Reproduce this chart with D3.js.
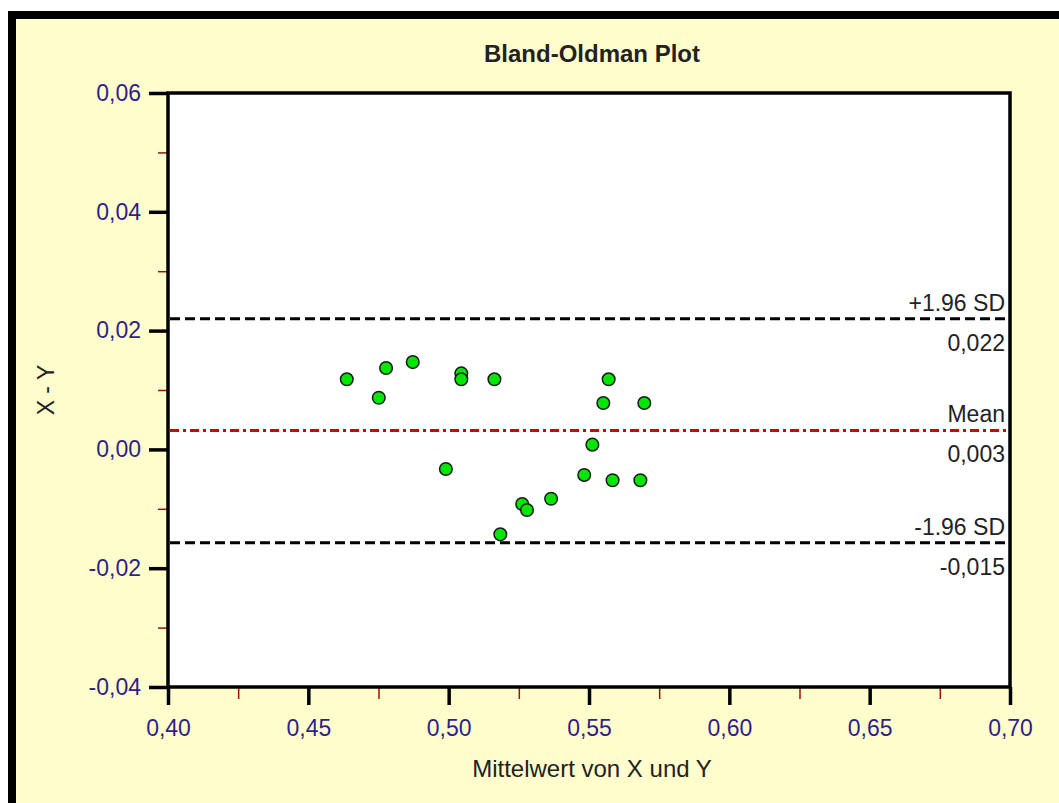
<!DOCTYPE html>
<html>
<head>
<meta charset="utf-8">
<script src="https://cdn.jsdelivr.net/npm/d3@7"></script>
<style>
  html, body { margin: 0; padding: 0; background: #fff; }
  svg { display: block; font-family: "Liberation Sans", Arial, sans-serif; }
</style>
</head>
<body>
<div id="chart"></div>
<script>
// Mittelwert (mean of X and Y) and difference X - Y
const meanXY = [0.4637, 0.4777, 0.4751, 0.4872, 0.5045, 0.5045, 0.5163, 0.4990, 0.5184, 0.5262,
                0.5279, 0.5365, 0.5512, 0.5483, 0.5570, 0.5551, 0.5697, 0.5584, 0.5683];
const diffXY = [0.0118, 0.0137, 0.0087, 0.0147, 0.0128, 0.0118, 0.0118, -0.0033, -0.0143, -0.0092,
                -0.0102, -0.0083, 0.0008, -0.0043, 0.0118, 0.0078, 0.0078, -0.0052, -0.0052];

// reference lines: +1.96 SD, mean, -1.96 SD
const refNames = ["+1.96 SD", "Mean", "-1.96 SD"];
const refValues = [0.0220, 0.0032, -0.0157];
const refLabels = ["0,022", "0,003", "-0,015"];

const xTicks = [0.40, 0.45, 0.50, 0.55, 0.60, 0.65, 0.70];
const xMinor = [0.425, 0.475, 0.525, 0.575, 0.625, 0.675];
const yTicks = [-0.04, -0.02, 0.00, 0.02, 0.04, 0.06];
const yMinor = [-0.03, -0.01, 0.01, 0.03, 0.05];

const W = 1059, H = 803;
const margin = { top: 93, right: 49, bottom: 116, left: 168 };
const width = W - margin.left - margin.right;
const height = H - margin.top - margin.bottom;

const tickColor = "#2e1f8c";
const fmt = (d, n) => d.toFixed(n).replace(".", ",");

const svg = d3.select("#chart").append("svg")
  .attr("width", W)
  .attr("height", H);

// panel background with the thick black frame
svg.append("rect").attr("x", 8).attr("y", 11).attr("width", W).attr("height", H)
  .attr("fill", "#000");
svg.append("rect").attr("x", 16).attr("y", 19).attr("width", W).attr("height", H)
  .attr("fill", "#fffdcc");

const g = svg.append("g").attr("transform", `translate(${margin.left},${margin.top})`);

const x = d3.scaleLinear().domain([0.40, 0.70]).range([0, width]);
const y = d3.scaleLinear().domain([-0.04, 0.06]).range([height, 0]);

g.append("rect").attr("width", width).attr("height", height).attr("fill", "#fff");

// title
svg.append("text")
  .attr("x", margin.left + width / 2 + 3)
  .attr("y", 62)
  .attr("text-anchor", "middle")
  .attr("font-weight", "bold")
  .attr("font-size", 24)
  .attr("fill", "#222")
  .text("Bland-Oldman Plot");

// minor ticks (red)
const xMinorAxis = g.append("g").attr("transform", `translate(0,${height})`)
  .call(d3.axisBottom(x).tickValues(xMinor).tickSize(12).tickFormat(""));
const yMinorAxis = g.append("g")
  .call(d3.axisLeft(y).tickValues(yMinor).tickSize(10).tickFormat(""));
[xMinorAxis, yMinorAxis].forEach(a => {
  a.select(".domain").remove();
  a.selectAll("line").attr("stroke", "#9a1010").attr("stroke-width", 1.5);
});

// major ticks
const xAxis = g.append("g").attr("transform", `translate(0,${height})`)
  .call(d3.axisBottom(x).tickValues(xTicks).tickSize(18).tickPadding(15).tickFormat(d => fmt(d, 2)));
const yAxis = g.append("g")
  .call(d3.axisLeft(y).tickValues(yTicks).tickSize(19).tickPadding(8).tickFormat(d => fmt(d, 2)));
[xAxis, yAxis].forEach(a => {
  a.select(".domain").remove();
  a.selectAll("line").attr("stroke", "#000").attr("stroke-width", 3.5);
  a.selectAll("text").attr("fill", tickColor).attr("font-size", 23)
    .attr("font-family", "'Liberation Sans', Arial, sans-serif");
});

// frame
g.append("rect").attr("width", width).attr("height", height)
  .attr("fill", "none").attr("stroke", "#000").attr("stroke-width", 3.5);

// reference lines
const refStyle = [
  { stroke: "#000", dash: "10,5" },
  { stroke: "#d00000", dash: "9,4,3,4" },
  { stroke: "#000", dash: "10,5" }
];
refValues.forEach((v, i) => {
  g.append("line")
    .attr("x1", 2).attr("x2", width - 2)
    .attr("y1", y(v)).attr("y2", y(v))
    .attr("stroke", refStyle[i].stroke)
    .attr("stroke-width", 3)
    .attr("stroke-dasharray", refStyle[i].dash);
  g.append("text")
    .attr("x", width - 5).attr("y", y(v) - 8)
    .attr("text-anchor", "end").attr("font-size", 23).attr("fill", "#222")
    .text(refNames[i]);
  g.append("text")
    .attr("x", width - 5).attr("y", y(v) + 32)
    .attr("text-anchor", "end").attr("font-size", 23).attr("fill", "#222")
    .text(refLabels[i]);
});

// points
g.append("g").selectAll("circle")
  .data(meanXY.map((m, i) => ({ m, d: diffXY[i] })))
  .join("circle")
  .attr("cx", d => x(d.m))
  .attr("cy", d => y(d.d))
  .attr("r", 6.3)
  .attr("fill", "#00e600")
  .attr("stroke", "#1a1a1a")
  .attr("stroke-width", 1.5);

// axis titles
svg.append("text")
  .attr("x", margin.left + width / 2 + 3)
  .attr("y", 777)
  .attr("text-anchor", "middle")
  .attr("font-size", 24)
  .attr("fill", "#222")
  .text("Mittelwert von X und Y");

svg.append("text")
  .attr("transform", `translate(54,${margin.top + y(0.01)}) rotate(-90)`)
  .attr("text-anchor", "middle")
  .attr("font-size", 23)
  .attr("fill", "#222")
  .text("X - Y");
</script>
</body>
</html>
